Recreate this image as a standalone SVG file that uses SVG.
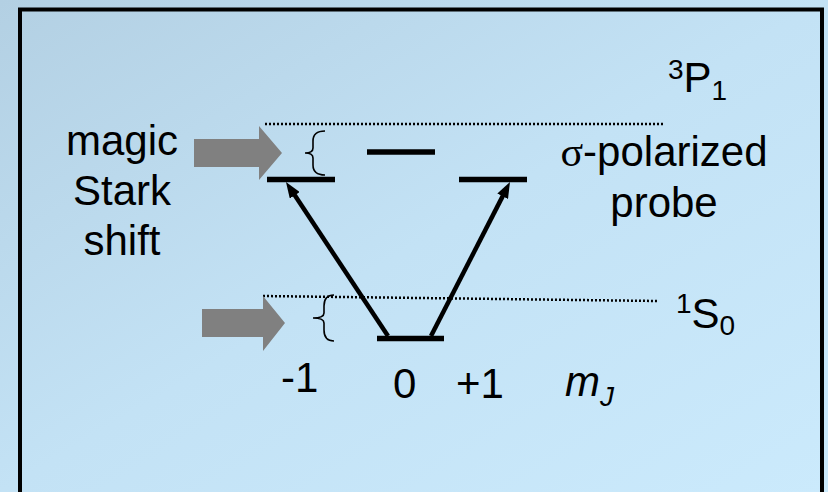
<svg xmlns="http://www.w3.org/2000/svg" width="828" height="492" viewBox="0 0 828 492">
<defs>
<linearGradient id="bg" x1="0" y1="0" x2="1" y2="1">
<stop offset="0" stop-color="#b3d0e3"/>
<stop offset="0.5" stop-color="#c3e2f5"/>
<stop offset="1" stop-color="#cbeafc"/>
</linearGradient>
<marker id="ah" viewBox="0 0 16 12" refX="6" refY="6" markerWidth="16" markerHeight="12" markerUnits="userSpaceOnUse" orient="auto">
<path d="M0,0 L16,6 L0,12 z" fill="#000"/>
</marker>
<style>
text{font-family:"Liberation Sans",Arial,sans-serif;font-size:42px;fill:#000}
.lvl{stroke:#000;stroke-width:5.5}
.dot{stroke:#000;stroke-width:2.5;stroke-dasharray:2 2;fill:none}
.pump{fill:#808080}
.brace{fill:none;stroke:#000;stroke-width:1.6}
.tr{stroke:#000;stroke-width:4.5;fill:none;marker-end:url(#ah)}
</style>
</defs>
<rect x="0" y="0" width="828" height="492" fill="url(#bg)"/>
<rect x="20" y="9.5" width="802" height="520" fill="none" stroke="#000" stroke-width="4"/>

<g id="level-3P1">
<line class="dot" x1="265" y1="124" x2="665" y2="124"/>
<text x="668" y="92"><tspan font-size="28" dy="-13">3</tspan><tspan dy="13">P</tspan><tspan font-size="28" dy="8">1</tspan></text>
</g>
<g id="level-1S0">
<line class="dot" x1="263" y1="296" x2="657" y2="301"/>
<text x="676" y="328"><tspan font-size="28" dy="-15">1</tspan><tspan dy="15">S</tspan><tspan font-size="28" dy="7">0</tspan></text>
</g>

<g id="sublevel-p-minus1"><line class="lvl" x1="267" y1="179.5" x2="335" y2="179.5"/></g>
<g id="sublevel-p-0"><line class="lvl" x1="367" y1="152" x2="435" y2="152"/></g>
<g id="sublevel-p-plus1"><line class="lvl" x1="459" y1="179.5" x2="527" y2="179.5"/></g>
<g id="ground-0"><line class="lvl" x1="377" y1="338.5" x2="444" y2="338.5"/></g>

<g id="stark-arrow-top">
<polygon class="pump" points="194,139 259,139 259,126 282,153 259,180 259,167 194,167"/>
<path class="brace" d="M325,131 Q313,131 313,141 L313,148 Q313,153 305,153 Q313,153 313,158 L313,165 Q313,175 325,175"/>
</g>
<g id="stark-arrow-bottom">
<polygon class="pump" points="202,309 263,309 263,296 285,323 263,351 263,337 202,337"/>
<path class="brace" d="M334,295 Q324,295 324,306 L324,313 Q324,318 313,318 Q324,318 324,323 L324,330 Q324,341 334,341"/>
</g>

<g id="label-magic">
<text x="122" y="155" text-anchor="middle">magic</text>
<text x="122" y="205" text-anchor="middle">Stark</text>
<text x="122" y="255" text-anchor="middle">shift</text>
</g>
<g id="label-probe">
<text x="664" y="166" text-anchor="middle"><tspan font-family="'Liberation Serif',serif">σ</tspan>-polarized</text>
<text x="664" y="217" text-anchor="middle">probe</text>
</g>
<g id="label-mj">
<text x="281" y="392">-1</text>
<text x="393" y="398">0</text>
<text x="456" y="398">+1</text>
<text x="565" y="396" font-style="italic">m<tspan font-size="28" dy="10">J</tspan></text>
</g>

<g id="connectors">
<line class="tr" x1="388" y1="336" x2="291.5" y2="190.3"/>
<line class="tr" x1="431" y1="336" x2="505.4" y2="190.9"/>
</g>
</svg>
